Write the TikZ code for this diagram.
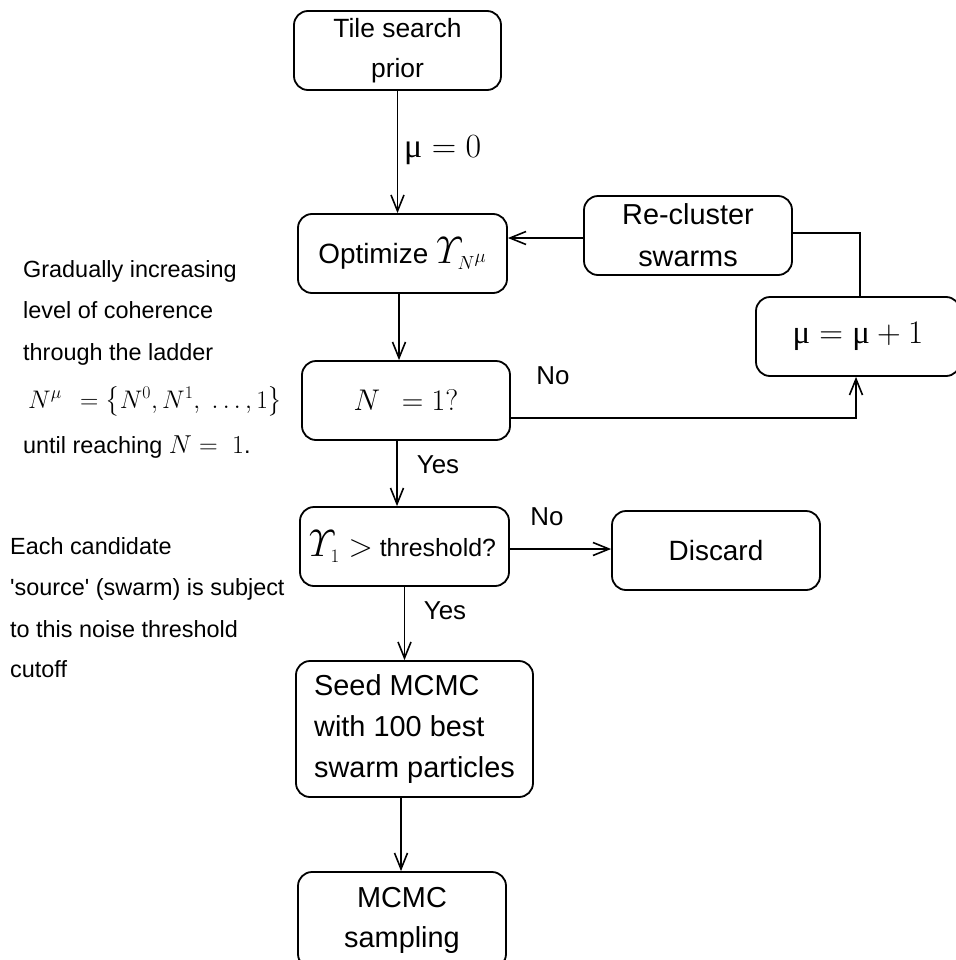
\RequirePackage{fix-cm}
\documentclass[tikz,border=0pt]{standalone}
\usepackage{amsmath}
\usepackage{fontspec}
\setmainfont{Liberation Sans}
\newfontfamily\muserif{Liberation Serif}
\usetikzlibrary{arrows.meta}
\newcommand\umu{\text{\muserif μ}}
\tikzset{
  box/.style={draw, rounded corners=14bp, line width=1.8bp, inner sep=0pt, align=center},
  arr/.style={line width=1.6bp, -{Straight Barb[length=16bp,width=13bp,line width=1.6bp]}},
  conn/.style={line width=1.6bp},
  lbl/.style={inner sep=0pt},
}
\begin{document}
\begin{tikzpicture}[x=1bp,y=-1bp]
\useasboundingbox (0,0) rectangle (956,960);
% boxes
\node[box, minimum width=207bp, minimum height=79bp, font=\fontsize{26.5}{40}\selectfont] (tile) at (397.5,50.5) {Tile search\\prior};
\node[box, minimum width=209bp, minimum height=79bp, font=\fontsize{28}{34}\selectfont] (opt) at (402.5,253.5) {Optimize {\fontsize{38}{40}\selectfont$\varUpsilon_{\scriptscriptstyle N^{\mu}}$}};
\node[box, minimum width=208bp, minimum height=79bp, font=\fontsize{29}{42}\selectfont] (rec) at (688,235.5) {Re-cluster\\swarms};
\node[box, minimum width=204bp, minimum height=79bp, font=\fontsize{33}{36}\selectfont] (mu) at (858,336.5) {$\umu = \umu + 1$};
\node[box, minimum width=208bp, minimum height=79bp, font=\fontsize{30}{36}\selectfont] (n1) at (406,400.5) {$N\;\,= 1?$};
\node[box, minimum width=209bp, minimum height=79bp] (thr) at (404.5,546.5) {\hspace*{-4bp}{\fontsize{38}{40}\selectfont$\varUpsilon_{\scriptscriptstyle 1}$\fontsize{32}{36}\selectfont$\;>$}{\fontsize{25}{30}\selectfont\ threshold?}};
\node[box, minimum width=208bp, minimum height=79bp, font=\fontsize{28}{34}\selectfont] (disc) at (716,550.5) {Discard};
\node[box, minimum width=237bp, minimum height=136bp, align=left, font=\fontsize{29}{41}\selectfont] (seed) at (414.5,729) {Seed MCMC\\with 100 best\\swarm particles};
\node[box, minimum width=208bp, minimum height=96bp, font=\fontsize{29}{40}\selectfont] (mcmc) at (402,920) {MCMC\\sampling};
% connectors
\draw[arr] (tile.south) -- (tile.south |- opt.north);
\draw[arr] ([xshift=-3.5bp]opt.south) -- ([xshift=-3.5bp]opt.south |- n1.north);
\draw[arr] ([xshift=-9bp]n1.south) -- ([xshift=-9bp]n1.south |- thr.north);
\draw[arr] (thr.south) -- (thr.south |- seed.north);
\draw[arr] ([xshift=-13.5bp]seed.south) -- ([xshift=-13.5bp]seed.south |- mcmc.north);
\draw[arr] ([yshift=-2.5bp]rec.west) -- ([yshift=-2.5bp]rec.west -| opt.east);
\draw[conn] ([yshift=2.5bp]rec.east) -| ([xshift=2bp]mu.north);
\draw[arr] ([yshift=-17.5bp]n1.east) -| ([xshift=-2bp]mu.south);
\draw[arr] ([yshift=-2.5bp]thr.east) -- ([yshift=-2.5bp]thr.east -| disc.west);
% edge labels
\node[lbl, anchor=west, font=\fontsize{34}{36}\selectfont] (m0) at (404,150) {$\umu = 0$};
\node[lbl, font=\fontsize{26}{30}\selectfont] (no1) at (553,376) {No};
\node[lbl, font=\fontsize{26}{30}\selectfont] (yes1) at (438,465) {Yes};
\node[lbl, font=\fontsize{26}{30}\selectfont] (no2) at (547,517) {No};
\node[lbl, font=\fontsize{26}{30}\selectfont] (yes2) at (445,611) {Yes};
% side notes
\begin{scope}[every node/.style={lbl, anchor=base west, font=\fontsize{23.5}{28}\selectfont}]
\node (g1) at (23,277) {Gradually increasing};
\node (g2) at (23,318) {level of coherence};
\node (g3) at (23,360) {through the ladder};
\node[font=\fontsize{25.5}{28}\selectfont] (g4) at (28,408) {$N^{\mu}\ \,= \big\{N^0, N^1,\ \dots,1\big\}$};
\node (g5) at (23,453) {until reaching {\fontsize{26}{28}\selectfont$N=\;1$}.};
\node (e1) at (10,554) {Each candidate};
\node (e2) at (10,595) {\textquotesingle source\textquotesingle\ (swarm) is subject};
\node (e3) at (10,637) {to this noise threshold};
\node (e4) at (10,677) {cutoff};
\end{scope}
\end{tikzpicture}
\end{document}
